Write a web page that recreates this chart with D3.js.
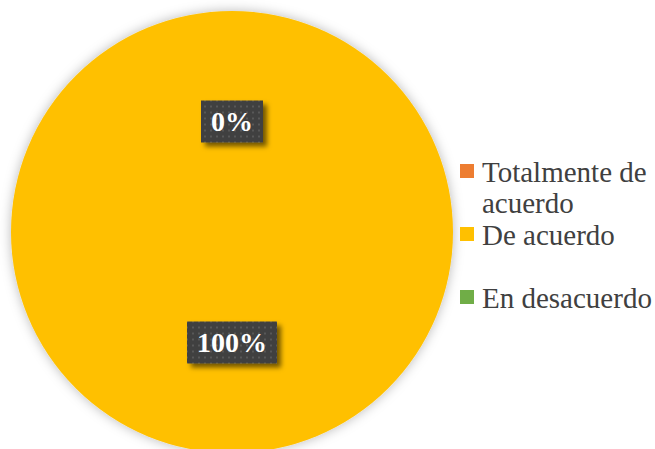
<!DOCTYPE html>
<html>
<head>
<meta charset="utf-8">
<script src="https://cdn.jsdelivr.net/npm/d3@7"></script>
<style>
    body { margin: 0; background: #fff; }
    .legend-text { font-family: "Liberation Serif", "Times New Roman", serif; font-size: 29px; fill: #404040; }
    .data-label { font-family: "Liberation Serif", "Times New Roman", serif; font-size: 28px; font-weight: bold; fill: #fff; }
</style>
</head>
<body>
<svg id="chart"></svg>
<script>
const categories = ["Totalmente de acuerdo", "De acuerdo", "En desacuerdo"];
const values = [0, 100, 0];
const percentLabels = ["0%", "100%", "0%"];
const colors = ["#ED7D31", "#FFC000", "#70AD47"];

const width = 655, height = 449;
const center = { x: 232, y: 232 };
const radius = 221;

const svg = d3.select("#chart")
    .attr("width", width)
    .attr("height", height);

const defs = svg.append("defs");

// soft glow round the pie
const glow = defs.append("filter").attr("id", "glow")
    .attr("x", "-10%").attr("y", "-10%").attr("width", "120%").attr("height", "120%");
glow.append("feDropShadow")
    .attr("dx", 0).attr("dy", 0)
    .attr("stdDeviation", 6)
    .attr("flood-color", "#000")
    .attr("flood-opacity", 0.28);

// shadow for label boxes
const boxShadow = defs.append("filter").attr("id", "boxShadow")
    .attr("x", "-20%").attr("y", "-20%").attr("width", "150%").attr("height", "160%");
boxShadow.append("feDropShadow")
    .attr("dx", 4).attr("dy", 4)
    .attr("stdDeviation", 2.5)
    .attr("flood-color", "#000")
    .attr("flood-opacity", 0.55);

// dotted fill for label boxes
const dots = defs.append("pattern").attr("id", "dots")
    .attr("width", 6).attr("height", 6)
    .attr("patternUnits", "userSpaceOnUse");
dots.append("rect").attr("width", 6).attr("height", 6).attr("fill", "#404040");
dots.append("rect").attr("x", 2).attr("y", 2).attr("width", 2).attr("height", 2).attr("fill", "#595959");

const pie = d3.pie().sort(null).value(d => d);
const arcs = pie(values);

const arc = d3.arc()
    .innerRadius(0)
    .outerRadius(radius);

const g = svg.append("g")
    .attr("transform", `translate(${center.x},${center.y})`);

// Draw slices
g.append("g")
    .attr("filter", "url(#glow)")
    .selectAll("path")
    .data(arcs)
    .join("path")
    .attr("d", arc)
    .attr("fill", (d, i) => colors[i]);

// Data labels (skip ones stacked on the same spot)
const seen = new Set();
arcs.forEach((d, i) => {
    const [cx, cy] = arc.centroid(d);
    const key = `${Math.round(cx)},${Math.round(cy)}`;
    if (seen.has(key)) return;
    seen.add(key);

    const lg = g.append("g").attr("transform", `translate(${cx},${cy})`);
    const box = lg.append("rect")
        .attr("fill", "url(#dots)")
        .attr("filter", "url(#boxShadow)");
    const text = lg.append("text")
        .attr("class", "data-label")
        .attr("text-anchor", "middle")
        .attr("dy", "0.35em")
        .text(percentLabels[i]);

    const bb = text.node().getBBox();
    const padX = 10, boxH = 42;
    box.attr("x", bb.x - padX)
        .attr("y", -boxH / 2)
        .attr("width", bb.width + padX * 2)
        .attr("height", boxH);
});

// Legend
const legend = svg.append("g").attr("transform", "translate(460,164)");
const entryStep = 63, lineHeight = 31, swatch = 14, textX = 22, maxTextW = width - 460 - textX - 1;

categories.forEach((name, i) => {
    const entry = legend.append("g").attr("transform", `translate(0,${i * entryStep})`);
    entry.append("rect")
        .attr("width", swatch)
        .attr("height", swatch)
        .attr("fill", colors[i]);

    const text = entry.append("text")
        .attr("class", "legend-text")
        .attr("x", textX)
        .attr("y", 18);

    // wrap words onto extra lines when too wide
    const words = name.split(" ");
    let line = [];
    let tspan = text.append("tspan").attr("x", textX).attr("dy", 0);
    words.forEach(w => {
        line.push(w);
        tspan.text(line.join(" "));
        if (tspan.node().getComputedTextLength() > maxTextW && line.length > 1) {
            line.pop();
            tspan.text(line.join(" "));
            line = [w];
            tspan = text.append("tspan").attr("x", textX).attr("dy", lineHeight).text(w);
        }
    });
});
</script>
</body>
</html>
